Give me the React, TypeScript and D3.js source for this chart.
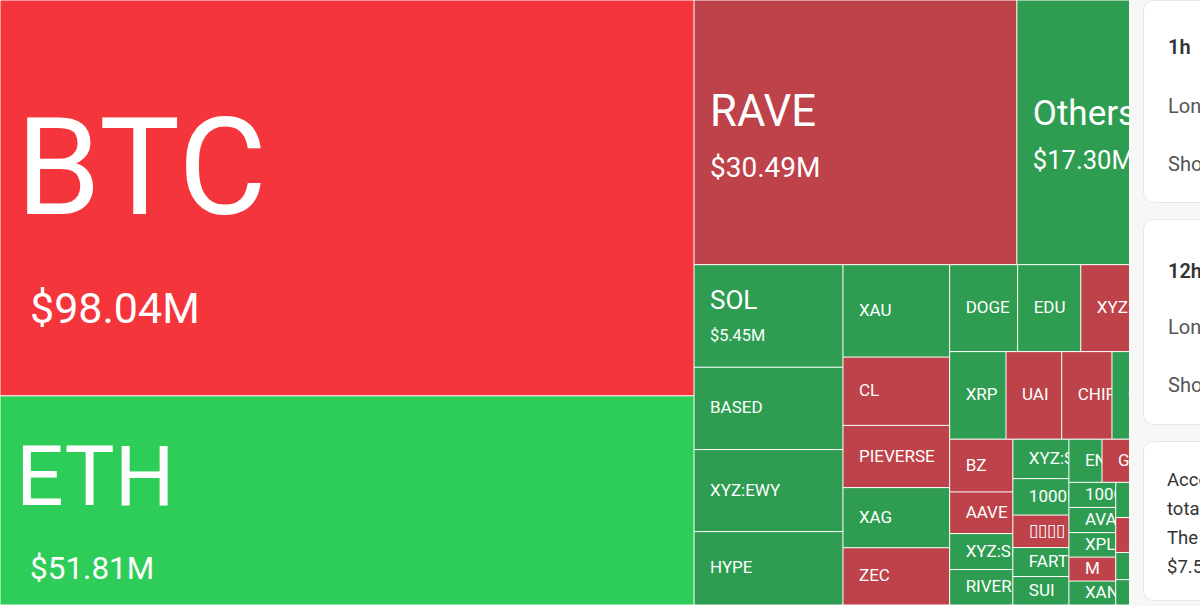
import React, { useMemo } from "react";
import * as d3 from "d3";

// ---- data (liquidation totals in $M) ----
const symbols = [
  "BTC", "ETH", "RAVE", "Others", "SOL", "BASED", "XYZ:EWY", "HYPE",
  "XAU", "CL", "PIEVERSE", "XAG", "ZEC",
  "DOGE", "EDU", "XYZ:SMSN", "LINK",
  "XRP", "UAI", "CHIP", "CRV", "ASTER",
  "BZ", "AAVE", "XYZ:SILVER", "RIVER",
  "XYZ:SNDK", "1000PEPE", "▯▯▯▯", "FART", "SUI",
  "ENA", "GIGGLE", "PUMP", "WLD",
  "1000BONK", "AVAX", "XPL", "M", "XAN",
  "TRUMP", "ADA", "BNB", "WIF", "TAO", "ZORA", "LTC", "ONDO", "SEI", "TIA", "ARB", "OP",
];
const liquidations = [
  98.04, 51.81, 30.49, 17.3, 5.45, 4.38, 4.36, 3.9,
  3.52, 2.6, 2.37, 2.29, 2.18,
  2.11, 1.96, 1.87, 1.83,
  1.76, 1.74, 1.57, 1.4, 1.35,
  1.19, 0.94, 0.81, 0.8,
  0.79, 0.73, 0.65, 0.58, 0.57,
  0.51, 0.51, 0.5, 0.5,
  0.42, 0.42, 0.41, 0.4, 0.4,
  0.36, 0.35, 0.35, 0.35, 0.35, 0.35, 0.3, 0.28, 0.26, 0.25, 0.25, 0.24,
];
// price move: -2 strong down, -1 down, 1 up, 2 strong up
const moves = [
  -2, 2, -1, 1, 1, 1, 1, 1,
  1, -1, -1, 1, -1,
  1, 1, -1, 1,
  1, -1, -1, 1, 1,
  -1, -1, 1, 1,
  1, 1, -1, 1, 1,
  1, -1, 1, -1,
  1, 1, 1, -1, 1,
  1, 1, -1, -1, 1, -1, 1, 1, -1, 1, 1, -1,
];

const card1Lines = ["Long", "Short"];
const card2Lines = ["Long", "Short"];
const card3Lines = ["According", "total", "The", "$7.5"];

const W = 1200;
const H = 606;
const MAP_H = 605;
const VISIBLE_W = 1129;
const FONT = "Roboto, 'Noto Sans', sans-serif";

const color = d3
  .scaleOrdinal<number, string>()
  .domain([-2, -1, 1, 2])
  .range(["#F5353C", "#BE4249", "#2E9D51", "#2ECC59"]);

const nameSize = d3
  .scaleLinear()
  .domain([5.45, 17.3, 30.49, 51.81, 98.04])
  .range([26, 35, 43.6, 84, 136])
  .clamp(true);
const valueSize = d3
  .scaleLinear()
  .domain([5.45, 17.3, 30.49, 51.81, 98.04])
  .range([16.3, 25.6, 28, 31.5, 43])
  .clamp(true);
const fmt = (v: number) => d3.format("$.2f")(v) + "M";

type Datum = { name: string; value: number; move: number };

export default function App() {
  const leaves = useMemo(() => {
    const data = {
      name: "root",
      children: symbols.map((s, i) => ({ name: s, value: liquidations[i], move: moves[i] })),
    };
    const root = d3
      .hierarchy<any>(data)
      .sum((d: any) => d.value ?? 0)
      .sort((a, b) => (b.value ?? 0) - (a.value ?? 0));
    d3.treemap<any>().size([W, MAP_H]).tile(d3.treemapSquarify)(root);
    return root.leaves() as d3.HierarchyRectangularNode<Datum>[];
  }, []);

  return (
    <div style={{ position: "fixed", left: 0, top: 0, width: W, height: H, background: "#fff", overflow: "hidden" }}>
      <svg width={W} height={H} style={{ display: "block", fontFamily: FONT }}>
        <defs>
          <clipPath id="mapClip">
            <rect x={0} y={0} width={VISIBLE_W} height={H} />
          </clipPath>
        </defs>
        <g clipPath="url(#mapClip)">
          {leaves.map((n, i) => {
            const d = n.data;
            const w = n.x1 - n.x0;
            const h = n.y1 - n.y0;
            const big = d.value >= 5;
            const f1 = big ? nameSize(d.value) : 17;
            const f2 = valueSize(d.value);
            const showLabel = n.x0 + 16 < VISIBLE_W;
            let nameY: number;
            let valY = 0;
            if (big) {
              const gap = 0.5 * f1 + 0.85 * f2 + 5;
              nameY = h / 2 + 0.2 * f1 - 5 + 0.3555 * f1 - gap / 2;
              valY = nameY + gap;
            } else {
              nameY = h / 2 + 0.355 * f1 - 1;
            }
            const valX = f1 > 60 ? 30 : 16;
            return (
              <svg key={i} x={n.x0} y={n.y0} width={w} height={h} overflow="hidden">
                <rect x={0.5} y={0.5} width={Math.max(0, w - 1)} height={Math.max(0, h - 1)} fill={color(d.move)} />
                {showLabel && (
                  <text x={16} y={nameY} fill="#fff" fontSize={f1}>
                    {d.name}
                  </text>
                )}
                {showLabel && big && (
                  <text x={valX} y={valY} fill="#fff" fontSize={f2}>
                    {fmt(d.value)}
                  </text>
                )}
              </svg>
            );
          })}
        </g>
        <rect x={VISIBLE_W} y={0} width={W - VISIBLE_W} height={H} fill="#f7f7f7" />
        {/* side cards */}
        <rect x={1143.5} y={0.5} width={120} height={202} rx={10} fill="#fff" stroke="#e6e6e6" />
        <rect x={1143.5} y={219.5} width={120} height={205} rx={10} fill="#fff" stroke="#e6e6e6" />
        <rect x={1143.5} y={441.5} width={120} height={159} rx={10} fill="#fff" stroke="#e6e6e6" />
        <text x={1168} y={54} fontSize={20} fontWeight={600} fill="#333">1h</text>
        {card1Lines.map((t, i) => (
          <text key={t} x={1168} y={113 + i * 58} fontSize={20} fill="#555">{t}</text>
        ))}
        <text x={1168} y={278} fontSize={20} fontWeight={600} fill="#333">12h</text>
        {card2Lines.map((t, i) => (
          <text key={t} x={1168} y={334 + i * 58} fontSize={20} fill="#555">{t}</text>
        ))}
        {card3Lines.map((t, i) => (
          <text key={t} x={1167} y={486 + i * 29} fontSize={18.5} fill="#333">{t}</text>
        ))}
      </svg>
    </div>
  );
}
